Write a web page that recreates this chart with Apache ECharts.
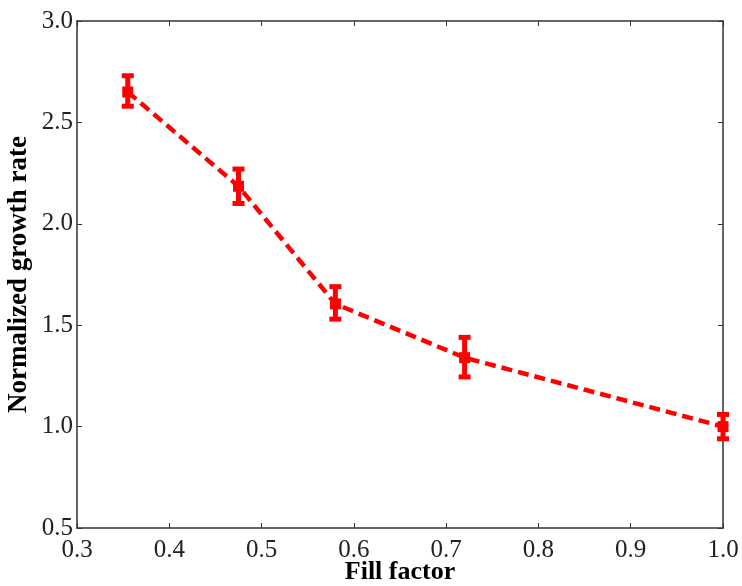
<!DOCTYPE html>
<html>
<head>
<meta charset="utf-8">
<script src="https://cdn.jsdelivr.net/npm/echarts@6/dist/echarts.min.js"></script>
<style>
  html, body { margin: 0; padding: 0; background: #fff; }
  #chart { width: 742px; height: 586px; }
</style>
</head>
<body>
<div id="chart"></div>
<script>
// Fill factor vs. normalized growth rate, with error bars
const fillFactor = [0.355, 0.475, 0.58, 0.72, 1.0];
const growthRate = [2.65, 2.185, 1.605, 1.34, 1.0];
const errLower = [2.58, 2.10, 1.53, 1.245, 0.94];
const errUpper = [2.73, 2.27, 1.69, 1.44, 1.06];

const xTitle = 'Fill factor';
const yTitle = 'Normalized growth rate';

const red = '#ff0000';
const axisColor = '#333';
const serif = '"Liberation Serif", "Times New Roman", serif';

const lineData = fillFactor.map((x, i) => [x, growthRate[i]]);
const errData = fillFactor.map((x, i) => [x, errLower[i], errUpper[i]]);

const chart = echarts.init(document.getElementById('chart'), null, { renderer: 'canvas' });

const tickStyle = { inside: true, length: 5, lineStyle: { color: axisColor, width: 1 } };
const lineStyleAxis = { lineStyle: { color: axisColor, width: 1.5 } };

chart.setOption({
  backgroundColor: '#fff',
  animation: false,
  grid: { left: 77, right: 19, top: 21, bottom: 58, containLabel: false, outerBoundsMode: 'none' },
  xAxis: [
    {
      type: 'value', min: 0.3, max: 1.0, interval: 0.1,
      name: xTitle, nameLocation: 'middle', nameGap: 31, nameMoveOverlap: false,
      nameTextStyle: { fontFamily: serif, fontWeight: 'bold', fontSize: 26, color: '#000' },
      axisLine: lineStyleAxis, axisTick: tickStyle,
      axisLabel: { fontFamily: serif, fontSize: 25, color: '#222', margin: 10,
                   formatter: v => v.toFixed(1) },
      splitLine: { show: false }
    },
    {
      type: 'value', position: 'top', min: 0.3, max: 1.0, interval: 0.1,
      axisLine: lineStyleAxis, axisTick: tickStyle,
      axisLabel: { show: false }, splitLine: { show: false }
    }
  ],
  yAxis: [
    {
      type: 'value', min: 0.5, max: 3.0, interval: 0.5,
      name: yTitle, nameLocation: 'middle', nameGap: 44, nameMoveOverlap: false,
      nameTextStyle: { fontFamily: serif, fontWeight: 'bold', fontSize: 27, color: '#000' },
      axisLine: lineStyleAxis, axisTick: tickStyle,
      axisLabel: { fontFamily: serif, fontSize: 25, color: '#222', margin: 4,
                   formatter: v => v.toFixed(1) },
      splitLine: { show: false }
    },
    {
      type: 'value', position: 'right', min: 0.5, max: 3.0, interval: 0.5,
      axisLine: lineStyleAxis, axisTick: tickStyle,
      axisLabel: { show: false }, splitLine: { show: false }
    }
  ],
  series: [
    {
      type: 'line',
      data: lineData,
      symbol: 'rect', symbolSize: 11,
      itemStyle: { color: red },
      lineStyle: { color: red, width: 4.5, type: [11, 6] },
      z: 3
    },
    {
      type: 'custom',
      data: errData,
      z: 4,
      renderItem: function (params, api) {
        const x = api.value(0);
        const lo = api.coord([x, api.value(1)]);
        const hi = api.coord([x, api.value(2)]);
        const capW = 6;
        const st = { stroke: red, lineWidth: 5 };
        return {
          type: 'group',
          children: [
            { type: 'line', shape: { x1: lo[0], y1: lo[1], x2: hi[0], y2: hi[1] }, style: st },
            { type: 'line', shape: { x1: lo[0] - capW, y1: lo[1], x2: lo[0] + capW, y2: lo[1] }, style: st },
            { type: 'line', shape: { x1: hi[0] - capW, y1: hi[1], x2: hi[0] + capW, y2: hi[1] }, style: st }
          ]
        };
      }
    }
  ]
});
</script>
</body>
</html>
